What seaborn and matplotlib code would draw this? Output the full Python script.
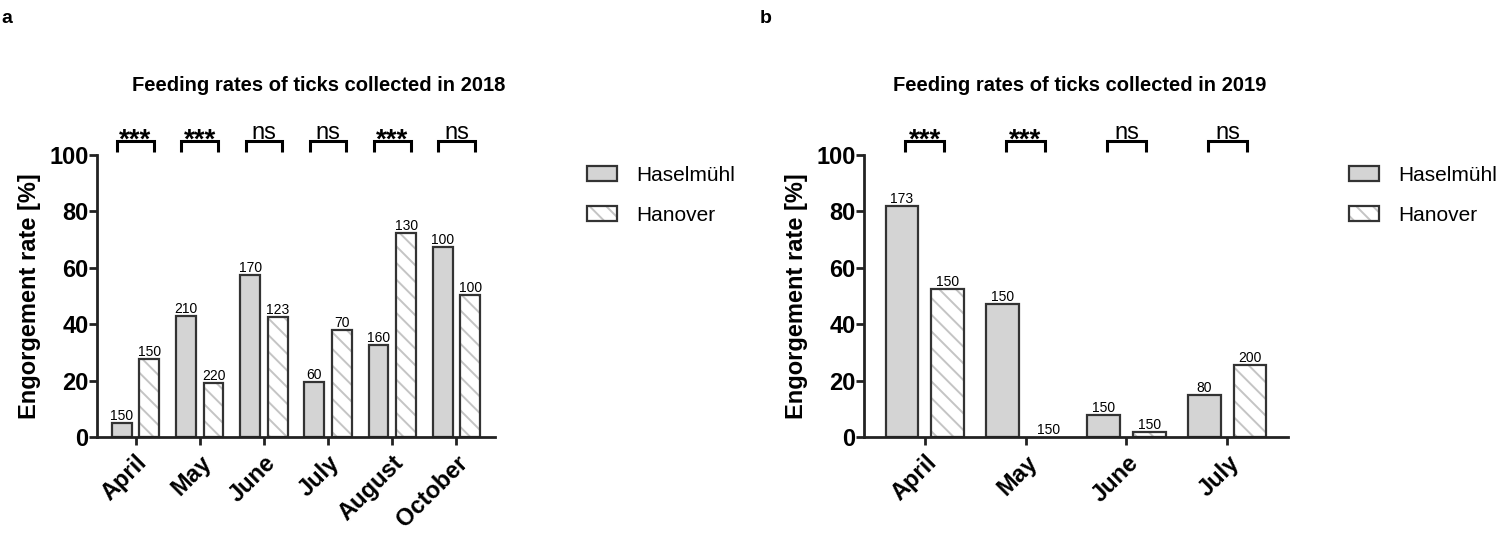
import matplotlib
matplotlib.use('Agg')
import matplotlib.pyplot as plt
from matplotlib.patches import Patch, Rectangle
import pandas as pd
import seaborn as sns

# 2018 data: engorgement rate [%] and number of ticks per bar
months_2018 = ['April', 'May', 'June', 'July', 'August', 'October']
hasel_2018 = [5, 43, 57.5, 19.5, 32.5, 67.5]
hanover_2018 = [27.5, 19, 42.5, 38, 72.5, 50.5]
n_hasel_2018 = [150, 210, 170, 60, 160, 100]
n_hanover_2018 = [150, 220, 123, 70, 130, 100]
sig_2018 = ['***', '***', 'ns', 'ns', '***', 'ns']

# 2019 data
months_2019 = ['April', 'May', 'June', 'July']
hasel_2019 = [82, 47, 7.7, 15]
hanover_2019 = [52.5, 0, 1.7, 25.4]
n_hasel_2019 = [173, 150, 150, 80]
n_hanover_2019 = [150, 150, 150, 200]
sig_2019 = ['***', '***', 'ns', 'ns']

sites = ['Haselmühl', 'Hanover']

fill = '#d4d4d4'
edge = '#333333'
hatch_col = '#c4c4c4'
W, H = 1498, 537
HATCH = '\\\\'

sns.set_style('ticks')
plt.rcParams['font.family'] = ['Liberation Sans', 'DejaVu Sans']
plt.rcParams['hatch.linewidth'] = 1.4
plt.rcParams['hatch.color'] = hatch_col
for k in ['text.color', 'axes.labelcolor', 'xtick.color', 'ytick.color']:
    plt.rcParams[k] = 'black'


def light_hatch(p):
    # hatch in light grey; the dark outline is drawn separately
    p.set_hatch(HATCH)
    p.set_edgecolor(hatch_col)
    if hasattr(p, 'set_hatchcolor'):
        p.set_hatchcolor(hatch_col)
    p.set_linewidth(0)
    return p


def draw_panel(ax, months, hasel, hanover, n_h, n_ha, sig, width, gap, br_half):
    df = pd.DataFrame({
        'month': months * 2,
        'site': [sites[0]] * len(months) + [sites[1]] * len(months),
        'rate': hasel + hanover,
    })
    sns.barplot(data=df, x='month', y='rate', hue='site', hue_order=sites,
                palette=[fill, 'white'], saturation=1, edgecolor=edge,
                linewidth=1.6, width=width, gap=gap, errorbar=None,
                legend=False, ax=ax)

    ax.bar_label(ax.containers[0], labels=[str(n) for n in n_h],
                 fontsize=10, padding=0)
    ax.bar_label(ax.containers[1], labels=[str(n) for n in n_ha],
                 fontsize=10, padding=0)

    for p in ax.containers[1]:
        light_hatch(p)
        if p.get_height() > 0:
            ax.add_patch(Rectangle(p.get_xy(), p.get_width(), p.get_height(),
                                   fill=False, edgecolor=edge, linewidth=1.6,
                                   zorder=p.get_zorder() + 0.1))

    ax.set_ylim(0, 100)
    ax.set_yticks([0, 20, 40, 60, 80, 100])
    ax.set_xlim(-0.6, len(months) - 0.4)
    ax.set_xticks(range(len(months)))
    ax.set_xticklabels(months, rotation=45, ha='right', rotation_mode='anchor',
                       fontsize=17, fontweight='bold')
    for lbl in ax.get_yticklabels():
        lbl.set_fontweight('bold')
        lbl.set_fontsize(17)
    ax.tick_params(axis='both', width=2, length=6, color='#222222')
    ax.tick_params(axis='y', pad=0)
    ax.tick_params(axis='x', pad=4)
    ax.set_xlabel('')
    ax.set_ylabel('Engorgement rate [%]', fontsize=17, fontweight='bold',
                  labelpad=6)
    sns.despine(ax=ax)
    for s in ['left', 'bottom']:
        ax.spines[s].set_linewidth(2)
        ax.spines[s].set_color('#222222')

    # significance brackets
    for i, s in enumerate(sig):
        ax.plot([i - br_half, i - br_half, i + br_half, i + br_half],
                [101, 105, 105, 101], color='black', lw=2.2, clip_on=False,
                solid_joinstyle='miter', solid_capstyle='butt')
        if s == '***':
            ax.text(i, 102.6, s, ha='center', va='baseline', fontsize=20,
                    fontweight='bold', clip_on=False)
        else:
            ax.text(i, 105.8, s, ha='center', va='baseline', fontsize=17,
                    clip_on=False)


def add_legend(ax, x_px):
    handles = [
        Patch(facecolor=fill, edgecolor=edge, linewidth=1.6),
        (light_hatch(Patch(facecolor='white')),
         Patch(fill=False, edgecolor=edge, linewidth=1.6)),
    ]
    ax.legend(handles, sites, loc='upper left',
              bbox_to_anchor=(x_px / W, 1 - 166 / H),
              bbox_transform=ax.figure.transFigure, frameon=False,
              fontsize=15, borderpad=0, borderaxespad=0,
              handlelength=1.45, handleheight=0.7, handletextpad=0.9,
              labelspacing=1.0)


fig = plt.figure(figsize=(W / 100, H / 100), dpi=100)
ax1 = fig.add_axes([97 / W, 1 - 437 / H, (495 - 97) / W, (437 - 155) / H])
ax2 = fig.add_axes([864 / W, 1 - 437 / H, (1288 - 864) / W, (437 - 155) / H])

draw_panel(ax1, months_2018, hasel_2018, hanover_2018,
           n_hasel_2018, n_hanover_2018, sig_2018,
           width=0.86, gap=0.28, br_half=0.285)
draw_panel(ax2, months_2019, hasel_2019, hanover_2019,
           n_hasel_2019, n_hanover_2019, sig_2019,
           width=0.91, gap=0.3, br_half=0.19)

add_legend(ax1, 587)
add_legend(ax2, 1349)

fig.text(319 / W, 1 - 91 / H, 'Feeding rates of ticks collected in 2018',
         ha='center', va='baseline', fontsize=14.5, fontweight='bold')
fig.text(1080 / W, 1 - 91 / H, 'Feeding rates of ticks collected in 2019',
         ha='center', va='baseline', fontsize=14.5, fontweight='bold')
fig.text(1 / W, 1 - 23 / H, 'a', ha='left', va='baseline', fontsize=14,
         fontweight='bold')
fig.text(760 / W, 1 - 23 / H, 'b', ha='left', va='baseline', fontsize=14,
         fontweight='bold')

plt.savefig('out.png', dpi=100)
